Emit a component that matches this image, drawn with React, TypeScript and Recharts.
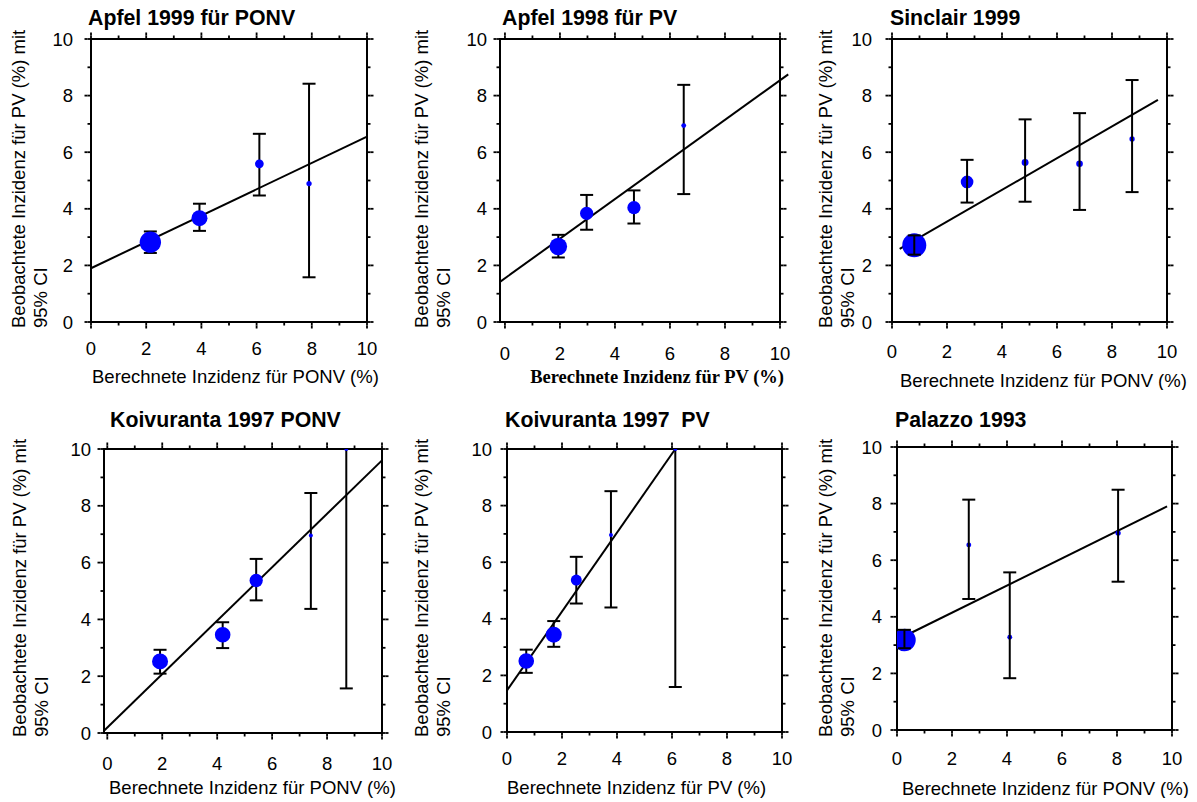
import React from 'react';
import { ScatterChart, Scatter, XAxis, YAxis, ZAxis, ErrorBar, ReferenceLine, ReferenceArea } from 'recharts';

const FONT = '"Liberation Sans", Arial, sans-serif';
const SERIF = '"Liberation Serif", "Times New Roman", serif';
const BLUE = '#0000ff';
const TICKS = [0, 1, 2, 3, 4, 5, 6, 7, 8, 9, 10];

const Y_TITLE_1 = 'Beobachtete Inzidenz für PV (%) mit';
const Y_TITLE_2 = '95% CI';
const X_TITLE_PONV = 'Berechnete Inzidenz für PONV (%)';
const X_TITLE_PV = 'Berechnete Inzidenz für PV (%)';

// Apfel 1999 für PONV
const apfel99X = [2.15, 3.93, 6.1, 7.9];
const apfel99Y = [2.82, 3.67, 5.59, 4.89];
const apfel99Lo = [2.44, 3.22, 4.47, 1.58];
const apfel99Hi = [3.2, 4.18, 6.65, 8.42];
const apfel99W = [114, 64, 19, 7];
const apfel99Fit = [[0, 1.9], [10, 6.55]];

// Apfel 1998 für PV
const apfel98X = [1.94, 2.97, 4.69, 6.5];
const apfel98Y = [2.67, 3.84, 4.04, 6.94];
const apfel98Lo = [2.28, 3.26, 3.48, 4.52];
const apfel98Hi = [3.08, 4.49, 4.65, 8.38];
const apfel98W = [77, 44, 44, 6];
const apfel98Fit = [[-0.18, 1.42], [10.3, 8.75]];

// Sinclair 1999
const sinclairX = [0.81, 2.73, 4.84, 6.82, 8.73];
const sinclairY = [2.71, 4.95, 5.64, 5.59, 6.47];
const sinclairLo = [2.38, 4.22, 4.25, 3.96, 4.59];
const sinclairHi = [3.06, 5.73, 7.16, 7.38, 8.55];
const sinclairW = [144, 40, 12, 11, 7];
const sinclairFit = [[0.28, 2.58], [9.67, 7.85]];

// Koivuranta 1997 PONV
const koiPonvX = [1.92, 4.2, 5.42, 7.41, 8.7];
const koiPonvY = [2.52, 3.46, 5.37, 6.95, 10];
const koiPonvLo = [2.09, 2.99, 4.67, 4.37, 1.57];
const koiPonvHi = [2.93, 3.9, 6.13, 8.45, 10];
const koiPonvW = [64, 61, 44, 4, 4];
const koiPonvFit = [[-0.12, 0.08], [10, 9.6]];

// Koivuranta 1997 PV
const koiPvX = [0.7, 1.7, 2.52, 3.78, 6.12];
const koiPvY = [2.51, 3.44, 5.37, 6.96, 10];
const koiPvLo = [2.09, 3.01, 4.54, 4.4, 1.59];
const koiPvHi = [2.91, 3.92, 6.19, 8.51, 10];
const koiPvW = [61, 64, 30, 4, 4];
const koiPvFit = [[0, 1.47], [6.12, 10]];

// Palazzo 1993
const palazzoX = [0.27, 2.61, 4.1, 8.04];
const palazzoY = [3.18, 6.54, 3.28, 6.96];
const palazzoLo = [2.89, 4.63, 1.83, 5.24];
const palazzoHi = [3.54, 8.14, 5.57, 8.49];
const palazzoW = [128, 6, 6, 7];
const palazzoFit = [[0.3, 3.33], [9.82, 7.9]];

// room around the plot box inside each chart
const AX_L = 100;
const AX_T = 45;
const AX_R = 25;
const AX_B = 68;
// minor tick length drawn by recharts, majors get an extra piece
const TS = 3.5;
const EXT = 3;

type PanelCfg = {
  title: string;
  xTitle: string;
  serifX?: boolean;
  xAnchor: 'start' | 'end';
  xs: number[]; ys: number[]; lo: number[]; hi: number[]; w: number[]; fit: number[][];
  xDomain: [number, number];
  L: number; T: number; R: number; B: number;
  titleDx: number; titleDy: number;
  yLabDx: number; yLabDy: number;
  yTickGap: number; xTickDy: number;
  xLabDx: number; xLabDy: number;
  barsOnTop?: boolean;
};

const panels: PanelCfg[] = [
  {
    title: 'Apfel 1999 für PONV', xTitle: X_TITLE_PONV, xAnchor: 'start',
    xs: apfel99X, ys: apfel99Y, lo: apfel99Lo, hi: apfel99Hi, w: apfel99W, fit: apfel99Fit,
    xDomain: [0, 10], L: 91, T: 39, R: 367, B: 322,
    titleDx: -3, titleDy: -14, yLabDx: -66, yLabDy: 6, yTickGap: 18, xTickDy: 33, xLabDx: 1, xLabDy: 61,
  },
  {
    title: 'Apfel 1998 für PV', xTitle: X_TITLE_PV, serifX: true, xAnchor: 'end',
    xs: apfel98X, ys: apfel98Y, lo: apfel98Lo, hi: apfel98Hi, w: apfel98W, fit: apfel98Fit,
    xDomain: [-0.18, 10], L: 500, T: 39, R: 780, B: 322,
    titleDx: 2, titleDy: -14, yLabDx: -72, yLabDy: 6, yTickGap: 13, xTickDy: 38, xLabDx: 284, xLabDy: 61,
  },
  {
    title: 'Sinclair 1999', xTitle: X_TITLE_PONV, xAnchor: 'start',
    xs: sinclairX, ys: sinclairY, lo: sinclairLo, hi: sinclairHi, w: sinclairW, fit: sinclairFit,
    xDomain: [0, 10], L: 892, T: 39, R: 1167, B: 322,
    titleDx: -2, titleDy: -14, yLabDx: -60, yLabDy: 6, yTickGap: 20, xTickDy: 36, xLabDx: 8, xLabDy: 65,
    barsOnTop: true,
  },
  {
    title: 'Koivuranta 1997 PONV', xTitle: X_TITLE_PONV, xAnchor: 'start',
    xs: koiPonvX, ys: koiPonvY, lo: koiPonvLo, hi: koiPonvHi, w: koiPonvW, fit: koiPonvFit,
    xDomain: [-0.12, 10], L: 104, T: 449, R: 382, B: 733,
    titleDx: 6, titleDy: -22, yLabDx: -78, yLabDy: 4, yTickGap: 13, xTickDy: 37, xLabDx: 5, xLabDy: 61,
  },
  {
    title: 'Koivuranta 1997  PV', xTitle: X_TITLE_PV, xAnchor: 'start',
    xs: koiPvX, ys: koiPvY, lo: koiPvLo, hi: koiPvHi, w: koiPvW, fit: koiPvFit,
    xDomain: [0, 10], L: 507, T: 449, R: 782, B: 732,
    titleDx: -2, titleDy: -22, yLabDx: -79, yLabDy: 5, yTickGap: 15, xTickDy: 33, xLabDx: 0, xLabDy: 62,
  },
  {
    title: 'Palazzo 1993', xTitle: X_TITLE_PONV, xAnchor: 'start',
    xs: palazzoX, ys: palazzoY, lo: palazzoLo, hi: palazzoHi, w: palazzoW, fit: palazzoFit,
    xDomain: [0, 10], L: 897, T: 447, R: 1172, B: 730,
    titleDx: -2, titleDy: -20, yLabDx: -65, yLabDy: 7, yTickGap: 15, xTickDy: 35, xLabDx: 5, xLabDy: 65,
    barsOnTop: true,
  },
];

const tickText = { fontFamily: FONT, fontSize: 18.5, fill: '#000' };
const tickLine = { stroke: '#000', strokeWidth: 1.8 };
const noShape = () => <g />;

// x, y arrive at the outer end of the recharts tick line (TS away from the frame)
function tickFor(side: 'top' | 'bottom' | 'left' | 'right', p: PanelCfg) {
  return (props: any) => {
    const x = Number(props.x);
    const y = Number(props.y);
    const v = Number(props.payload.value);
    const major = v % 2 === 0;
    if (!major) return <g />;
    let d = '';
    let label = null;
    if (side === 'bottom') {
      d = `M${x},${y}L${x},${y + EXT}`;
      label = <text x={x} y={y - TS + p.xTickDy} textAnchor="middle" style={tickText}>{v}</text>;
    } else if (side === 'top') {
      d = `M${x},${y}L${x},${y - EXT}`;
    } else if (side === 'left') {
      d = `M${x},${y}L${x - EXT},${y}`;
      label = <text x={x + TS - p.yTickGap} y={y + 6.6} textAnchor="end" style={tickText}>{v}</text>;
    } else {
      d = `M${x},${y}L${x + EXT},${y}`;
    }
    return (
      <g>
        <path d={d} stroke="#000" strokeWidth={1.8} />
        {label}
      </g>
    );
  };
}

function Panel({ p }: { p: PanelCfg }) {
  const pw = p.R - p.L;
  const ph = p.B - p.T;
  const cw = AX_L + pw + AX_R;
  const ch = AX_T + ph + AX_B;
  const data = p.xs.map((x, i) => ({
    x,
    y: p.ys[i],
    w: p.w[i],
    err: [p.ys[i] - p.lo[i], p.hi[i] - p.ys[i]],
  }));

  const titleLabel = () => (
    <text x={AX_L + p.titleDx} y={AX_T + p.titleDy} style={{ fontFamily: FONT, fontSize: 21.3, fontWeight: 'bold', fill: '#000', whiteSpace: 'pre' }}>
      {p.title}
    </text>
  );
  const yLabel = () => {
    const x1 = AX_L + p.yLabDx;
    const x2 = x1 + 21.7;
    const y0 = AX_T + ph + p.yLabDy;
    const st = { fontFamily: FONT, fontSize: 18.5, fill: '#000' };
    return (
      <g>
        <text x={x1} y={y0} transform={`rotate(-90, ${x1}, ${y0})`} style={st}>{Y_TITLE_1}</text>
        <text x={x2} y={y0} transform={`rotate(-90, ${x2}, ${y0})`} style={st}>{Y_TITLE_2}</text>
      </g>
    );
  };
  const xLabel = () => (
    <text
      x={AX_L + p.xLabDx}
      y={AX_T + ph + p.xLabDy}
      textAnchor={p.xAnchor}
      style={{
        fontFamily: p.serifX ? SERIF : FONT,
        fontWeight: p.serifX ? 'bold' : 'normal',
        fontSize: 18.5,
        fill: '#000',
      }}
    >
      {p.xTitle}
    </text>
  );

  const barZ = { zIndex: p.barsOnTop ? 700 : 550 } as any;
  const bars = (
    <Scatter key="bars" data={data} dataKey="y" shape={noShape} isAnimationActive={false} {...barZ}>
      <ErrorBar dataKey="err" direction="y" width={6.5} stroke="#000" strokeWidth={2} {...barZ} />
    </Scatter>
  );
  const points = (
    <Scatter key="points" data={data} dataKey="y" fill={BLUE} isAnimationActive={false} />
  );

  return (
    <div style={{ position: 'absolute', left: p.L - AX_L, top: p.T - AX_T }}>
      <ScatterChart width={cw} height={ch} margin={{ top: 0, right: 0, bottom: 0, left: 0 }}>
        <XAxis
          dataKey="x" type="number" domain={p.xDomain} ticks={TICKS} interval={0} allowDataOverflow
          height={AX_B} tickSize={TS} tickMargin={0} tickLine={tickLine} axisLine={false}
          tick={tickFor('bottom', p)} label={xLabel}
        />
        <XAxis
          xAxisId="top" orientation="top" dataKey="x" type="number" domain={p.xDomain} ticks={TICKS}
          interval={0} allowDataOverflow height={AX_T} tickSize={TS} tickMargin={0} tickLine={tickLine}
          axisLine={false} tick={tickFor('top', p)} label={titleLabel}
        />
        <YAxis
          dataKey="y" type="number" domain={[0, 10]} ticks={TICKS} interval={0} allowDataOverflow
          width={AX_L} tickSize={TS} tickMargin={0} tickLine={tickLine} axisLine={false}
          tick={tickFor('left', p)} label={yLabel}
        />
        <YAxis
          yAxisId="right" orientation="right" dataKey="y" type="number" domain={[0, 10]} ticks={TICKS}
          interval={0} allowDataOverflow width={AX_R} tickSize={TS} tickMargin={0} tickLine={tickLine}
          axisLine={false} tick={tickFor('right', p)}
        />
        <ZAxis dataKey="w" type="number" domain={[0, 150]} range={[0, 150 * Math.PI]} />
        <ReferenceArea
          x1={p.xDomain[0]} x2={p.xDomain[1]} y1={0} y2={10}
          fill="none" stroke="#000" strokeWidth={2} ifOverflow="visible"
        />
        <ReferenceLine
          segment={[{ x: p.fit[0][0], y: p.fit[0][1] }, { x: p.fit[1][0], y: p.fit[1][1] }]}
          stroke="#000" strokeWidth={2} ifOverflow="visible"
        />
        <Scatter data={data} xAxisId="top" yAxisId="right" dataKey="y" shape={noShape} isAnimationActive={false} />
        {p.barsOnTop ? [points, bars] : [bars, points]}
      </ScatterChart>
    </div>
  );
}

export default function App() {
  return (
    <div>
      {panels.map((p) => (
        <Panel key={p.title} p={p} />
      ))}
    </div>
  );
}
